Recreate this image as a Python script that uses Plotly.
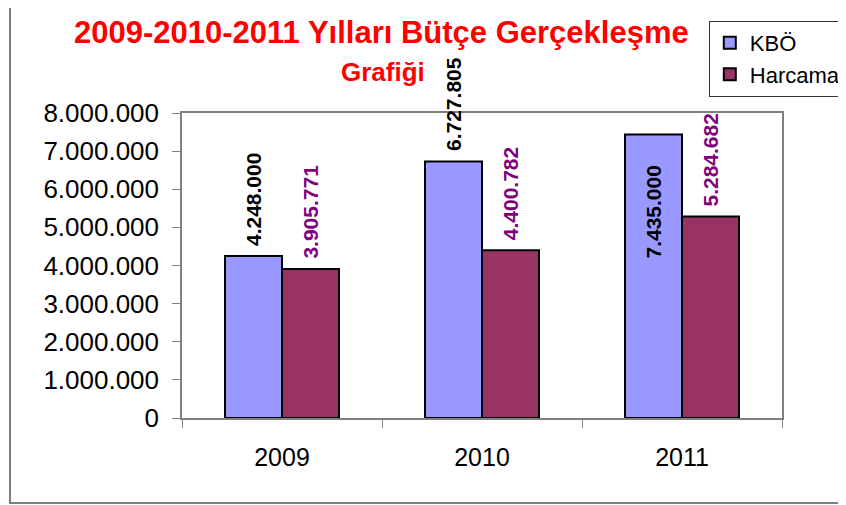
import plotly.graph_objects as go

years = ["2009", "2010", "2011"]
kbo = [4248000, 6727805, 7435000]
harcama = [3905771, 4400782, 5284682]
series_names = ["KBÖ", "Harcama"]
kbo_label_inside = [False, False, True]
title_line1 = "2009-2010-2011 Yılları Bütçe Gerçekleşme"
title_line2 = "Grafiği"
y_ticks = [0, 1000000, 2000000, 3000000, 4000000, 5000000, 6000000, 7000000, 8000000]

FONT = "Liberation Sans, Arial, sans-serif"
BARGAP = 0.43
PLOT_W = 600
half_bar_px = (1 - BARGAP) * PLOT_W / len(years) / 4


def fmt(v):
    return f"{v:,}".replace(",", ".")


fig = go.Figure()
fig.add_trace(go.Bar(
    x=years, y=kbo, name=series_names[0], legendgroup="a",
    marker=dict(color="#9999FF", line=dict(color="black", width=2)),
))
fig.add_trace(go.Bar(
    x=years, y=harcama, name=series_names[1], legendgroup="b",
    marker=dict(color="#993366", line=dict(color="black", width=2)),
))

# data labels (rotated, as in the original)
for i in range(len(years)):
    inside = kbo_label_inside[i]
    fig.add_annotation(
        x=i, y=kbo[i], xref="x", yref="y", text=fmt(kbo[i]),
        textangle=-90, showarrow=False, xanchor="center",
        yanchor="top" if inside else "bottom",
        xshift=-half_bar_px, yshift=-29 if inside else 8,
        font=dict(family=FONT, size=21, color="black", weight="bold"),
    )
    fig.add_annotation(
        x=i, y=harcama[i], xref="x", yref="y", text=fmt(harcama[i]),
        textangle=-90, showarrow=False, xanchor="center", yanchor="bottom",
        xshift=half_bar_px, yshift=8,
        font=dict(family=FONT, size=21, color="#800080", weight="bold"),
    )

fig.add_annotation(x=0.332, y=1.264, xref="paper", yref="paper", text=title_line1,
                   showarrow=False, xanchor="center", yanchor="middle",
                   font=dict(family=FONT, size=31, color="#FF0000", weight="bold"))
fig.add_annotation(x=0.335, y=1.134, xref="paper", yref="paper", text=title_line2,
                   showarrow=False, xanchor="center", yanchor="middle",
                   font=dict(family=FONT, size=26, color="#FF0000", weight="bold"))

# outer chart frame
fig.add_shape(type="rect", xref="paper", yref="paper",
              x0=-0.2867, x1=1.2, y0=-0.2787, y1=1.364,
              line=dict(color="#555555", width=1.5), fillcolor="rgba(0,0,0,0)", layer="below")

fig.update_layout(
    width=846, height=505,
    margin=dict(l=174, r=72, t=105, b=95, autoexpand=False),
    paper_bgcolor="white", plot_bgcolor="white",
    separators=",.",
    barmode="group", bargap=BARGAP, bargroupgap=0,
    font=dict(family=FONT, color="black"),
    showlegend=True,
    legend=dict(x=0.878, y=1.302, xanchor="left", yanchor="top",
                bordercolor="#333333", borderwidth=1, bgcolor="white",
                font=dict(family=FONT, size=22, color="black"),
                tracegroupgap=7, traceorder="normal"),
    xaxis=dict(type="category", range=[-0.5, len(years) - 0.5], automargin=False,
               showline=True, linecolor="#808080", linewidth=1.5,
               mirror=True, ticks="outside", tickson="boundaries", ticklen=8,
               tickcolor="#808080", tickfont=dict(family=FONT, size=25, color="black"),
               tickangle=0, showgrid=False, ticklabelstandoff=16),
    yaxis=dict(range=[0, 8000000], tickvals=y_ticks, tickformat=",.0f", automargin=False,
               showline=True, linecolor="#808080", linewidth=1.5, mirror=True,
               ticks="outside", ticklen=8, tickcolor="#808080",
               tickfont=dict(family=FONT, size=26, color="black"),
               ticklabelstandoff=8,
               showgrid=False, zeroline=False),
)

fig.write_html("out.html")
